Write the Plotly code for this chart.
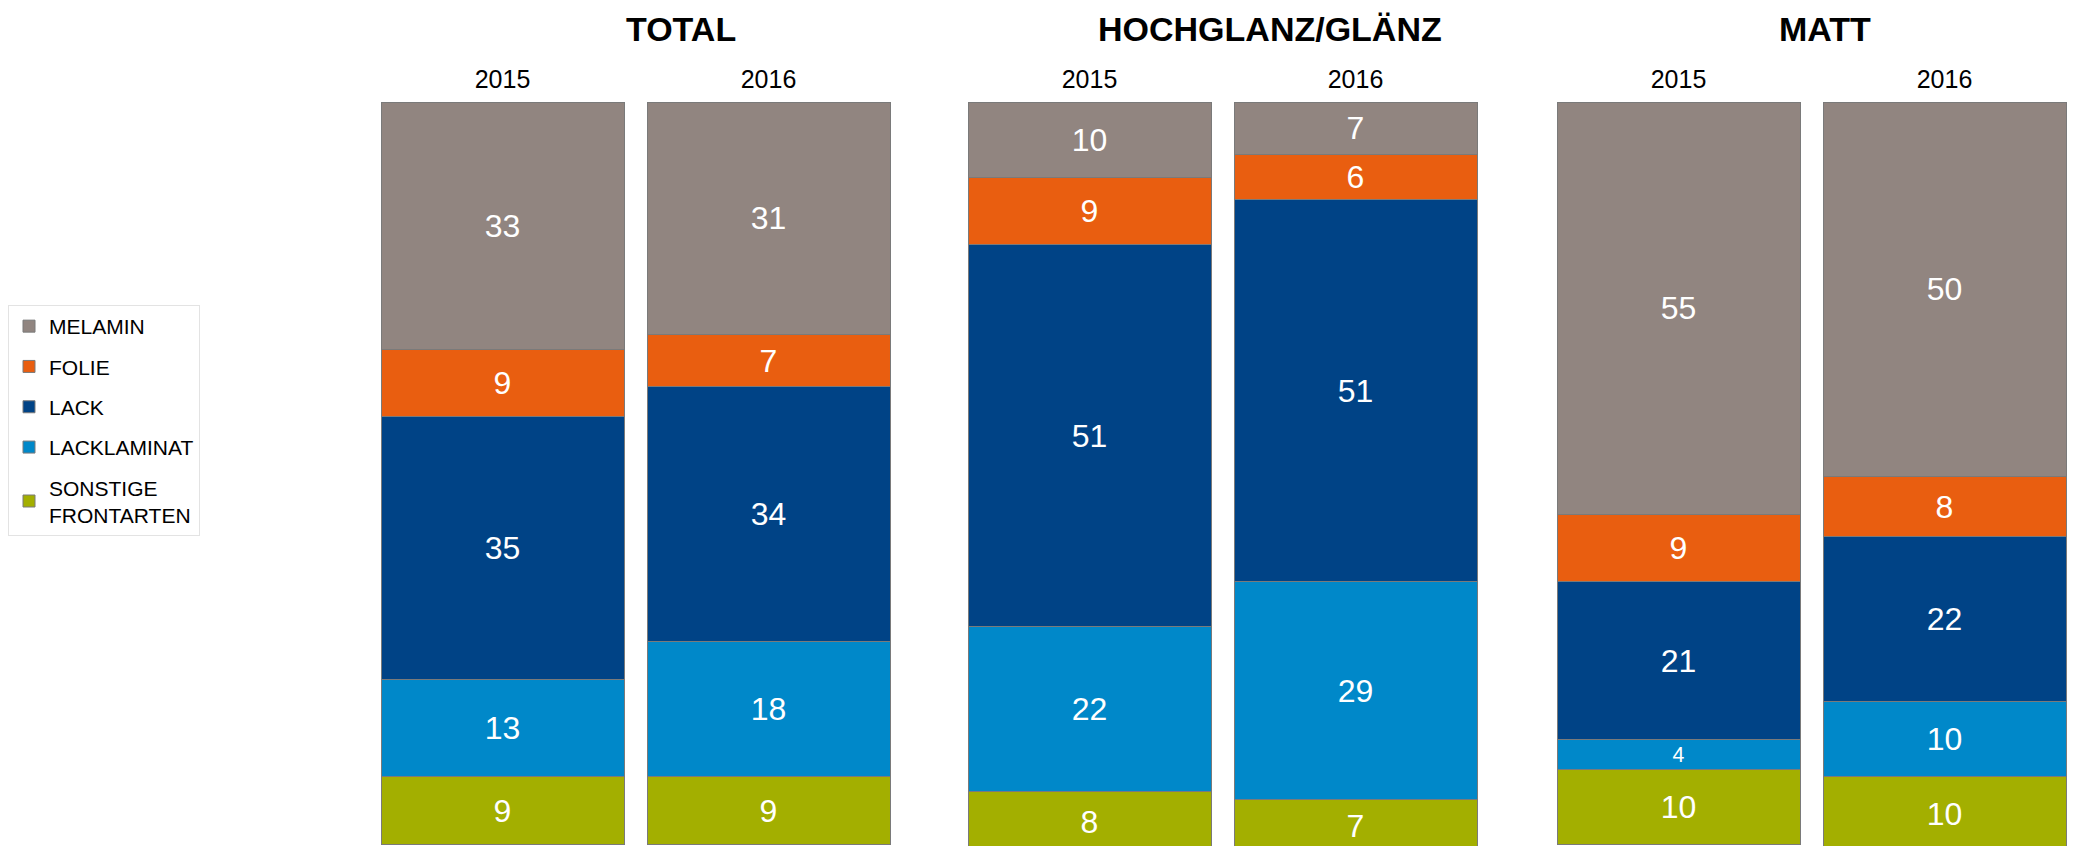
import plotly.graph_objects as go

# Frontarten share (%) by finish group and year
groups = ["TOTAL", "HOCHGLANZ/GLÄNZ", "MATT"]
years = ["2015", "2016"]

melamin = [[33, 31], [10, 7], [55, 50]]
folie = [[9, 7], [9, 6], [9, 8]]
lack = [[35, 34], [51, 51], [21, 22]]
lacklaminat = [[13, 18], [22, 29], [4, 10]]
sonstige = [[9, 9], [8, 7], [10, 10]]

series = [
    ("MELAMIN", melamin, "#918580"),
    ("FOLIE", folie, "#e95e10"),
    ("LACK", lack, "#004386"),
    ("LACKLAMINAT", lacklaminat, "#0088c9"),
    ("SONSTIGE<br>FRONTARTEN", sonstige, "#a3af00"),
]

FONT = "Liberation Sans, Arial, sans-serif"
W, H = 2080, 846
OFF = 8          # page body margin, shifts the figure by this much
TOP = 102 - OFF  # plot area top inside the figure
PH = H - TOP

fig = go.Figure()

axis_names = ["x", "x2", "x3"]
for name, values, color in series:
    for g, ax in enumerate(axis_names):
        fig.add_trace(go.Bar(
            x=years, y=values[g], name=name,
            xaxis=ax, yaxis="y",
            legendgroup=name, showlegend=(g == 0),
            marker=dict(color=color, line=dict(color="#7a7a7a", width=1)),
            width=0.9135,
            text=values[g], texttemplate="%{text}",
            textposition="inside", insidetextanchor="middle",
            textangle=0,
            textfont=dict(color="white", size=32, family=FONT),
            hoverinfo="name+y",
        ))

# group domains in screen pixels (left, right)
domains = [(369.5, 901.5), (956.5, 1488.5), (1545.5, 2077.5)]
for i, (a, b) in enumerate(domains):
    key = "xaxis" if i == 0 else "xaxis%d" % (i + 1)
    fig.layout[key] = dict(
        domain=[(a - OFF) / W, (b - OFF) / W], anchor="y", side="top",
        type="category", range=[-0.5, 1.5],
        showline=False, showgrid=False, zeroline=False, ticks="",
        tickfont=dict(size=25, color="black", family=FONT),
        ticklabelstandoff=8,
    )

fig.update_layout(
    width=W, height=H,
    barmode="stack",
    plot_bgcolor="white", paper_bgcolor="white",
    margin=dict(l=0, r=0, t=TOP, b=0, autoexpand=False),
    font=dict(family=FONT, color="black"),
    yaxis=dict(range=[100.27, 0], visible=False, fixedrange=True),
    legend=dict(
        x=0, y=1 - (305 - OFF - TOP) / PH, xanchor="left", yanchor="top",
        traceorder="grouped", tracegroupgap=10,
        bordercolor="#e3e3e3", borderwidth=1, bgcolor="white",
        font=dict(size=21, color="black", family=FONT),
        itemwidth=30, entrywidth=200, entrywidthmode="pixels",
    ),
)

title_x = [681, 1270, 1825]
for t, xp in zip(groups, title_x):
    fig.add_annotation(
        text="<b>%s</b>" % t, x=(xp - OFF) / W, xanchor="center",
        y=1 + (TOP - (29 - OFF)) / PH, yanchor="middle",
        xref="paper", yref="paper", showarrow=False,
        font=dict(size=34, color="black", family=FONT),
    )

fig.write_html("out.html")
